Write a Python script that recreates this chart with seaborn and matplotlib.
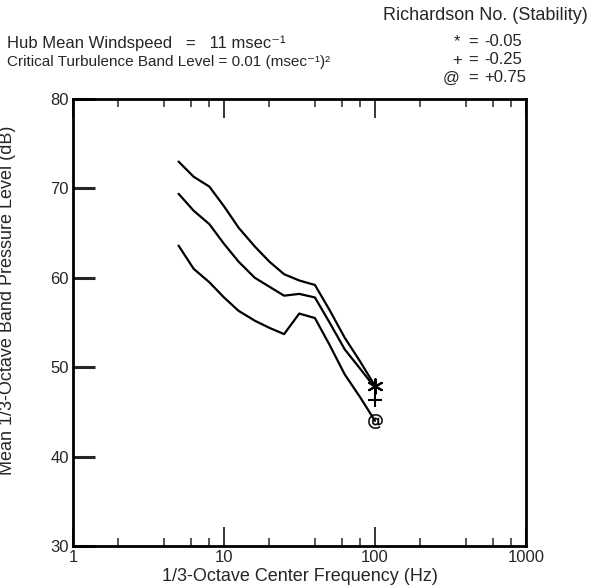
import numpy as np
import pandas as pd

import matplotlib
matplotlib.use('Agg')
import matplotlib.pyplot as plt
import seaborn as sns

sns.set_style('white')
plt.rcParams['font.family'] = ['Liberation Sans', 'DejaVu Sans']

# 1/3-octave center frequencies (Hz)
freq = [5, 6.3, 8, 10, 12.5, 16, 20, 25, 31.5, 40, 50, 63, 80, 100]

# mean band pressure level (dB) for each Richardson number
db_ri_m005 = [73.0, 71.3, 70.2, 68.0, 65.6, 63.5, 61.8, 60.4, 59.7, 59.2, 56.4, 53.3, 50.6, 47.9]
db_ri_m025 = [69.4, 67.5, 66.0, 63.8, 61.8, 60.0, 59.0, 58.0, 58.2, 57.8, 55.0, 52.0, 49.8, 47.7]
db_ri_p075 = [63.6, 61.0, 59.5, 57.8, 56.3, 55.2, 54.4, 53.7, 56.0, 55.5, 52.5, 49.2, 46.6, 44.0]

ri_labels = ['-0.05', '-0.25', '+0.75']
ri_symbols = ['*', '+', '@']
end_freq = [100, 100, 100]
end_db = [47.9, 46.3, 44.0]
end_markers = [(6, 2, 0), '+', r'$@$']

rows = []
for ri, vals in zip(ri_labels, [db_ri_m005, db_ri_m025, db_ri_p075]):
    for f, v in zip(freq, vals):
        rows.append({'freq': f, 'db': v, 'ri': ri})
df = pd.DataFrame(rows)

fig = plt.figure(figsize=(6, 5.88), dpi=100)
ax = fig.add_axes([73 / 600, 1 - 546 / 588, 453 / 600, 447 / 588])

sns.lineplot(data=df, x='freq', y='db', units='ri', estimator=None,
             color='black', linewidth=1.6, ax=ax)
# end-of-curve symbols
for f, v, m in zip(end_freq, end_db, end_markers):
    sns.scatterplot(x=[f], y=[v], marker=m, color='black', edgecolor='black',
                    s=110 if m != '+' else 90, linewidth=1.5 if m != r'$@$' else 0.3,
                    legend=False, ax=ax)

ax.set_xscale('log')
ax.set_xlim(1, 1000)
ax.set_ylim(30, 80)
ax.set_xticks([1, 10, 100, 1000])
ax.set_xticklabels(['1', '10', '100', '1000'])
ax.set_xticks([2, 4, 6, 8, 20, 40, 60, 80, 200, 400, 600, 800], minor=True)
ax.set_xticklabels([], minor=True)
ax.set_yticks([30, 40, 50, 60, 70, 80])
ax.tick_params(axis='x', which='major', direction='in', length=14, width=1.3,
               top=True, bottom=True, labelsize=12, pad=3)
ax.tick_params(axis='x', which='minor', direction='in', length=6, width=1.1,
               top=True, bottom=True)
ax.tick_params(axis='y', which='major', direction='in', length=16, width=2.2,
               left=True, right=False, labelsize=12, pad=3)
for s in ax.spines.values():
    s.set_linewidth(2)
    s.set_color('black')

ax.set_xlabel('1/3-Octave Center Frequency (Hz)', fontsize=13, labelpad=2)
ax.set_ylabel('Mean 1/3-Octave Band Pressure Level (dB)', fontsize=13)
ax.yaxis.set_label_coords(-0.126, 0.55)

fig.text(7 / 600, 1 - 43 / 588, 'Hub Mean Windspeed   =   11 msec\u207b\u00b9',
         fontsize=12, va='center')
fig.text(7 / 600, 1 - 62 / 588, 'Critical Turbulence Band Level = 0.01 (msec\u207b\u00b9)\u00b2',
         fontsize=11, va='center')
fig.text(588 / 600, 1 - 15 / 588, 'Richardson No. (Stability)', fontsize=13,
         va='center', ha='right')
for i, (sym, lab) in enumerate(zip(ri_symbols, ri_labels)):
    yy = 1 - (42 + 18 * i) / 588
    fig.text((457 if sym != '@' else 451) / 600, yy, sym, fontsize=12, va='center', ha='center')
    fig.text(473 / 600, yy, '=', fontsize=12, va='center', ha='center')
    fig.text(484 / 600, yy, lab, fontsize=12, va='center', ha='left')

fig.savefig('out.png', dpi=100)
